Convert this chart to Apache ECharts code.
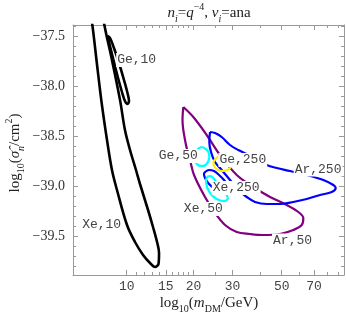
<!DOCTYPE html>
<html><head><meta charset="utf-8">
<script src="https://cdn.jsdelivr.net/npm/echarts@6/dist/echarts.min.js"></script>
<style>html,body{margin:0;padding:0;background:#fff}#c{width:346px;height:318px}</style>
</head><body><div id="c"></div>
<script>
// contour curves: [m_DM (GeV), log10 sigma]
const xe10 = [[6.59,-37.00],[7.00,-37.39],[7.35,-37.79],[7.71,-38.17],[8.15,-38.54],[8.58,-38.84],[9.04,-39.04],[10.03,-39.39],[10.90,-39.56],[11.85,-39.69],[12.74,-39.77],[13.42,-39.81],[13.91,-39.78],[13.99,-39.67],[13.74,-39.57],[13.14,-39.41],[12.48,-39.24],[11.48,-38.98],[11.01,-38.84],[10.35,-38.64],[9.82,-38.44],[9.33,-38.14],[8.58,-37.74],[7.93,-37.39],[7.42,-37.00],[6.98,-36.84],[6.59,-37.00]];
const ge10 = [[8.19,-37.50],[8.45,-37.62],[8.76,-37.76],[9.14,-37.92],[9.52,-38.06],[9.82,-38.15],[10.08,-38.18],[10.24,-38.15],[10.08,-38.07],[9.72,-37.94],[9.23,-37.77],[8.76,-37.62],[8.41,-37.52],[8.19,-37.50]];
const ar50 = [[18.00,-38.21],[19.97,-38.31],[22.95,-38.49],[26.35,-38.69],[31.35,-38.89],[37.24,-39.01],[44.31,-39.11],[52.70,-39.19],[59.43,-39.26],[62.60,-39.32],[61.56,-39.39],[56.43,-39.44],[49.15,-39.48],[41.31,-39.49],[35.98,-39.48],[31.35,-39.46],[27.76,-39.39],[25.02,-39.27],[22.55,-39.11],[20.12,-38.89],[19.30,-38.74],[18.51,-38.59],[17.85,-38.34],[18.00,-38.21]];
const ar250 = [[23.75,-38.46],[25.02,-38.47],[26.82,-38.51],[29.24,-38.59],[31.87,-38.64],[34.77,-38.68],[38.59,-38.73],[42.81,-38.79],[47.50,-38.82],[54.53,-38.85],[64.86,-38.89],[77.05,-38.94],[85.51,-38.99],[87.62,-39.02],[84.06,-39.06],[74.46,-39.09],[64.86,-39.13],[56.43,-39.16],[49.15,-39.18],[42.81,-39.18],[37.91,-39.16],[34.77,-39.11],[31.87,-39.04],[29.24,-38.94],[26.82,-38.84],[25.02,-38.76],[24.00,-38.66],[23.58,-38.56],[23.75,-38.46]];
const ge50 = [[23.60,-38.71],[23.36,-38.75],[22.69,-38.79],[21.80,-38.80],[20.96,-38.79],[20.33,-38.75],[20.12,-38.71],[20.33,-38.66],[20.96,-38.63],[21.80,-38.61],[22.69,-38.63],[23.36,-38.66],[23.60,-38.71]];
const ge250 = [[29.85,-38.77],[29.49,-38.81],[28.46,-38.84],[27.10,-38.85],[25.81,-38.84],[24.92,-38.81],[24.61,-38.77],[24.92,-38.74],[25.81,-38.71],[27.10,-38.70],[28.46,-38.71],[29.49,-38.74],[29.85,-38.77]];
const xe250 = [[22.55,-38.86],[23.51,-38.84],[24.76,-38.85],[26.08,-38.89],[27.47,-38.94],[28.64,-39.00],[28.94,-39.05],[28.05,-39.07],[26.63,-39.06],[25.02,-39.03],[23.51,-38.98],[22.55,-38.92],[22.31,-38.88],[22.55,-38.86]];
const xe50 = [[23.34,-38.90],[22.79,-38.94],[23.10,-39.02],[24.18,-39.09],[25.47,-39.13],[27.27,-39.15],[28.55,-39.13],[28.43,-39.10],[27.27,-39.06],[25.89,-38.99],[24.58,-38.92],[23.75,-38.90],[23.34,-38.90]];

// contour labels
const labelTexts = ['Ge,10','Xe,10','Ge,50','Ge,250','Ar,250','Xe,250','Xe,50','Ar,50'];
const labelM = [11.09, 7.71, 17.09, 33.39, 72.94, 31.18, 22.16, 55.96];
const labelS = [-37.74, -39.39, -38.70, -38.74, -38.835, -39.02, -39.23, -39.545];

// ticks
const xMajor = [10, 15, 20, 30, 50, 70];
const xMinor = [11, 12, 13, 14, 16, 17, 18, 19, 25, 40, 60, 80, 90];
const yMajor = [-39.5, -39.0, -38.5, -38.0, -37.5];
const yMinor = [-39.8,-39.7,-39.6,-39.4,-39.3,-39.2,-39.1,-38.9,-38.8,-38.7,-38.6,-38.4,-38.3,-38.2,-38.1,-37.9,-37.8,-37.7,-37.6,-37.4];

const X_MIN = 5.725, X_MAX = 95.5, Y_MIN = -39.89, Y_MAX = -37.39;
const FRAME = '#999';
const TXT = '#333';
const MONO = 'Liberation Mono';
const SERIF = 'Liberation Serif';

function xAx(pos, ticks, len, labels, showLine) {
  return {
    type: 'log', logBase: 10, min: X_MIN, max: X_MAX, position: pos,
    axisLine: { show: showLine, lineStyle: { color: FRAME, width: 1 } },
    axisTick: { show: true, inside: true, length: len, customValues: ticks, lineStyle: { color: FRAME } },
    axisLabel: labels ? { show: true, customValues: ticks, margin: 5, fontFamily: MONO, fontSize: 13, color: '#444',
      formatter: v => String(Math.round(v)) } : { show: false },
    minorTick: { show: false }, splitLine: { show: false }
  };
}
function yAx(pos, ticks, len, labels, showLine) {
  return {
    type: 'value', min: Y_MIN, max: Y_MAX, position: pos,
    axisLine: { show: showLine, lineStyle: { color: FRAME, width: 1 } },
    axisTick: { show: true, inside: true, length: len, customValues: ticks, lineStyle: { color: FRAME } },
    axisLabel: labels ? { show: true, customValues: ticks, margin: 8, fontFamily: SERIF, fontSize: 14, color: TXT,
      formatter: v => (v < 0 ? '\u2212' : '') + Math.abs(v).toFixed(1) } : { show: false },
    splitLine: { show: false }
  };
}

function curve(data, color, width) {
  return { type: 'line', data: data, smooth: 0.35, symbol: 'none', showSymbol: false, clip: true,
    lineStyle: { color: color, width: width }, silent: true, z: 2, animation: false };
}

const base = { fontFamily: SERIF, fontSize: 15, lineHeight: 22, verticalAlign: 'middle', fill: '#222' };
const richSet = {
  a: base,
  i: Object.assign({}, base, { fontStyle: 'italic' }),
  s: { fontFamily: SERIF, fontSize: 10, lineHeight: 10, verticalAlign: 'bottom', fill: '#222' },
  si: { fontFamily: SERIF, fontSize: 10, lineHeight: 10, verticalAlign: 'bottom', fill: '#222', fontStyle: 'italic' },
  p: { fontFamily: SERIF, fontSize: 10, lineHeight: 10, verticalAlign: 'top', fill: '#222' }
};
const titleRich = {
  a: Object.assign({}, base, { fontSize: 15 }),
  i: Object.assign({}, base, { fontSize: 15, fontStyle: 'italic' }),
  s: Object.assign({}, richSet.s, { fontSize: 10, fontStyle: 'italic' }),
  p: Object.assign({}, richSet.p, { fontSize: 10 })
};

const chart = echarts.init(document.getElementById('c'), null, { renderer: 'canvas' });
chart.setOption({
  animation: false,
  backgroundColor: '#fff',
  grid: { left: 73, right: 2, top: 25, bottom: 43, containLabel: false },
  xAxis: [
    xAx('bottom', xMajor, 5, true, true),
    xAx('bottom', xMinor, 3, false, false),
    xAx('top', xMajor, 5, false, true),
    xAx('top', xMinor, 3, false, false)
  ],
  yAxis: [
    yAx('left', yMajor, 5, true, true),
    yAx('left', yMinor, 3, false, false),
    yAx('right', yMajor, 5, false, true),
    yAx('right', yMinor, 3, false, false)
  ],
  series: [
    curve(xe10, '#000', 2.6),
    curve(ge10, '#000', 2.6),
    curve(ar50, '#800080', 2.2),
    curve(ar250, '#0000ff', 2.2),
    curve(xe250, '#0000ff', 2.2),
    curve(xe50, '#00ffff', 2.2),
    curve(ge50, '#00ffff', 2.2),
    curve(ge250, '#ffee00', 2.2),
    {
      type: 'scatter', symbolSize: 1, itemStyle: { color: 'rgba(0,0,0,0)' }, z: 5, silent: true, animation: false,
      data: labelTexts.map((t, k) => ({ name: t, value: [labelM[k], labelS[k]] })),
      label: { show: true, position: 'inside', formatter: p => p.name, fontFamily: MONO, fontSize: 13,
        color: '#444', backgroundColor: '#fff', padding: [1, 1, 0, 1], opacity: 1 }
    }
  ],
  graphic: [
    { type: 'text', x: 209, y: 13, z: 10, style: { text: '{i|n}{s|i}{a|=}{i|q}{p|\u22124}{a|, }{i|\u03bd}{s|i}{a|=ana}', rich: titleRich, align: 'center', verticalAlign: 'middle' } },
    { type: 'text', x: 209, y: 303, z: 10, style: { text: '{a|log}{s|10}{a|(}{i|m}{s|DM}{a|/GeV)}', rich: richSet, align: 'center', verticalAlign: 'middle' } },
    { type: 'text', x: 15, y: 153, rotation: Math.PI / 2, z: 10, style: { text: '{a|log}{s|10}{a|(}{i|\u03c3\u0302}{si|n}{a|/cm}{p|2}{a|)}', rich: richSet, align: 'center', verticalAlign: 'middle' } }
  ]
});
</script></body></html>
